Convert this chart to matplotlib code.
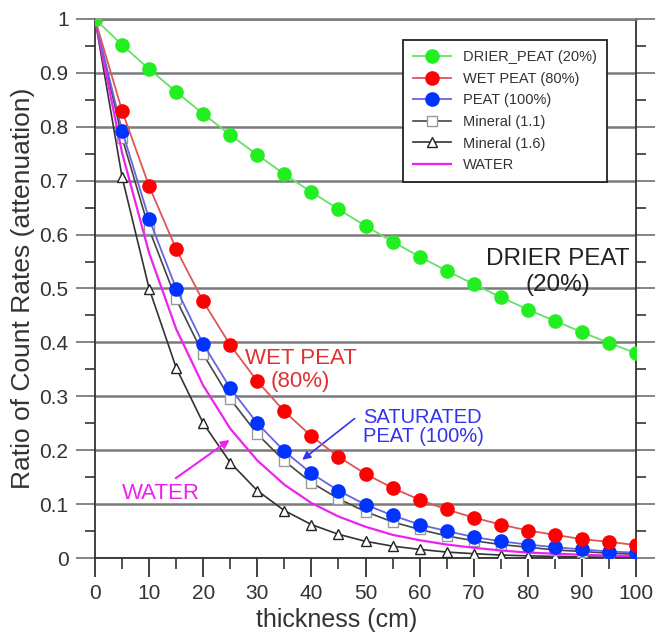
import matplotlib
matplotlib.use("Agg")
import matplotlib.pyplot as plt
from matplotlib.ticker import MultipleLocator, FuncFormatter

plt.rcParams['font.family'] = ['Liberation Sans', 'DejaVu Sans']

thickness = [0, 5, 10, 15, 20, 25, 30, 35, 40, 45, 50, 55, 60, 65, 70, 75, 80, 85, 90, 95, 100]

drier_peat = [1.0, 0.952, 0.907, 0.865, 0.824, 0.785, 0.748, 0.712, 0.679, 0.647, 0.616,
              0.587, 0.559, 0.533, 0.508, 0.484, 0.461, 0.440, 0.419, 0.399, 0.380]
wet_peat = [1.0, 0.830, 0.690, 0.573, 0.476, 0.395, 0.328, 0.272, 0.226, 0.188, 0.156,
            0.130, 0.108, 0.090, 0.075, 0.062, 0.051, 0.043, 0.035, 0.030, 0.024]
peat = [1.0, 0.793, 0.629, 0.500, 0.397, 0.315, 0.250, 0.198, 0.157, 0.125, 0.099,
        0.079, 0.062, 0.050, 0.039, 0.031, 0.025, 0.020, 0.016, 0.012, 0.010]
mineral_11 = [1.0, 0.780, 0.610, 0.480, 0.378, 0.295, 0.230, 0.180, 0.140, 0.110, 0.086,
              0.067, 0.053, 0.041, 0.032, 0.025, 0.020, 0.015, 0.012, 0.009, 0.007]
mineral_16 = [1.0, 0.707, 0.500, 0.353, 0.250, 0.177, 0.125, 0.088, 0.062, 0.044, 0.031,
              0.022, 0.016, 0.011, 0.008, 0.0055, 0.004, 0.003, 0.002, 0.0014, 0.001]
water = [1.0, 0.752, 0.566, 0.425, 0.320, 0.240, 0.181, 0.136, 0.102, 0.077, 0.058,
         0.043, 0.033, 0.025, 0.019, 0.014, 0.010, 0.008, 0.006, 0.0045, 0.0033]

labels = ["DRIER_PEAT (20%)", "WET PEAT (80%)", "PEAT (100%)",
          "Mineral (1.1)", "Mineral (1.6)", "WATER"]

fig = plt.figure(figsize=(6.62, 6.36), dpi=100)
ax = fig.add_axes([95/662, 1-558/636, (636-95)/662, (558-19)/636])

grid_c = '#7a7a7a'
spine_c = '#333333'

h_m16, = ax.plot(thickness, mineral_16, color='#333333', lw=1.2, marker='^', ms=7.5,
                 mfc='white', mec='#222222', mew=1.0, zorder=3)
h_m11, = ax.plot(thickness, mineral_11, color='#444444', lw=1.2, marker='s', ms=7.5,
                 mfc='white', mec='#999999', mew=1.0, zorder=3)
h_w, = ax.plot(thickness, water, color='#ee22ee', lw=1.6, zorder=4)
h_p, = ax.plot(thickness, peat, color='#6666dd', lw=1.3, marker='o', ms=9.5,
               mfc='#0033ff', mec='#0033ff', zorder=5)
h_wp, = ax.plot(thickness, wet_peat, color='#e05555', lw=1.3, marker='o', ms=9.5,
                mfc='#ff0000', mec='#ff0000', zorder=5)
h_d, = ax.plot(thickness, drier_peat, color='#66e066', lw=1.3, marker='o', ms=9.5,
               mfc='#22ee22', mec='#22ee22', zorder=6)

ax.set_xlim(0, 100)
ax.set_ylim(0, 1)
ax.xaxis.set_major_locator(MultipleLocator(10))
ax.xaxis.set_minor_locator(MultipleLocator(5))
ax.yaxis.set_major_locator(MultipleLocator(0.1))
ax.yaxis.set_minor_locator(MultipleLocator(0.05))
ax.yaxis.set_major_formatter(FuncFormatter(lambda v, p: f"{v:g}"))

ax.grid(axis='y', which='major', color=grid_c, lw=1.8, zorder=1)
ax.set_axisbelow(True)

ax.spines['top'].set_color(grid_c)
ax.spines['top'].set_linewidth(1.8)
for s in ['left', 'right', 'bottom']:
    ax.spines[s].set_color(spine_c)
    ax.spines[s].set_linewidth(1.3)

ax.tick_params(axis='y', which='major', direction='out', length=14, width=1.3,
               color=grid_c, left=True, right=True, labelsize=15, pad=5,
               labelcolor='#333333')
ax.tick_params(axis='y', which='minor', direction='out', length=7, width=1.2,
               color=spine_c, left=True, right=True)
ax.tick_params(axis='x', which='major', direction='out', length=14, width=1.3,
               color=spine_c, labelsize=15, pad=5, labelcolor='#333333')
ax.tick_params(axis='x', which='minor', direction='out', length=8, width=1.2,
               color=spine_c)

ax.set_xlabel("thickness (cm)", fontsize=18, color='#333333', labelpad=4)
ax.xaxis.set_label_coords(0.447, -0.093)
ax.set_ylabel("Ratio of Count Rates (attenuation)", fontsize=19, color='#333333', labelpad=3)

leg = ax.legend([h_d, h_wp, h_p, h_m11, h_m16, h_w], labels, loc='upper left',
                bbox_to_anchor=(0.569, 0.961), borderaxespad=0, fontsize=10.5,
                handlelength=2.6, labelspacing=0.52, fancybox=False,
                framealpha=1, edgecolor='#222222', borderpad=0.7, handletextpad=0.8)
leg.get_frame().set_linewidth(1.3)
for t in leg.get_texts():
    t.set_color('#333333')

ax.text(85.5, 0.53, "DRIER PEAT\n(20%)", ha='center', va='center', fontsize=17.5,
        color='#222222', linespacing=1.25)
ax.text(38, 0.349, "WET PEAT\n(80%)", ha='center', va='center', fontsize=16,
        color='#e03030', linespacing=1.1)
ax.text(49.5, 0.243, "SATURATED\nPEAT (100%)", ha='left', va='center', fontsize=14.5,
        color='#3333ee', linespacing=1.05)
ax.annotate("", xy=(37.9, 0.179), xytext=(48.4, 0.262),
            arrowprops=dict(arrowstyle='-|>', color='#3333ee', lw=1.2, mutation_scale=12))
ax.text(5, 0.12, "WATER", ha='left', va='center', fontsize=16, color='#ee22ee')
ax.annotate("", xy=(25.3, 0.222), xytext=(14.5, 0.145),
            arrowprops=dict(arrowstyle='-|>', color='#ee22ee', lw=1.5, mutation_scale=12))

fig.savefig("out.png", dpi=100)
